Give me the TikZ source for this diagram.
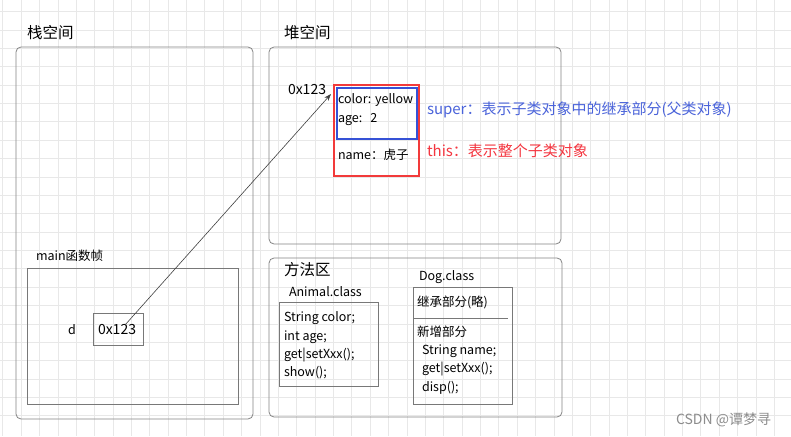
\documentclass[tikz,border=0pt]{standalone}
\usepackage{fontspec}
\setmainfont{Noto Sans CJK SC}
\usepackage{tikz}
\tikzset{
  every node/.style = {
    inner sep = 0pt,
    outer sep = 0pt
  }
}
\usetikzlibrary{
arrows.meta,
calc
}
\definecolor{gridgray}{HTML}{E8E8E8}
\definecolor{boxgray}{HTML}{858585}
\definecolor{objred}{HTML}{F23A3A}
\definecolor{objblue}{HTML}{3551D6}
\definecolor{supblue}{HTML}{4A63DA}
\definecolor{thisred}{HTML}{F4353F}

\begin{document}
\begin{tikzpicture}[
      x = 1pt,
      y = -1pt,
      gridline/.style = {
        draw = gridgray,
        line width = 0.8pt,
      },
      area/.style = {
        draw = boxgray,
        line width = 0.8pt,
        rounded corners = 5pt,
        anchor = north west,
      },
      frame/.style = {
        draw = boxgray!90!black,
        line width = 0.8pt,
        anchor = north west,
      },
      title/.style = {
        font = \fontsize{15.5}{18}\selectfont,
        anchor = west,
      },
      label/.style = {
        font = \fontsize{12.5}{18.3}\selectfont,
        anchor = west,
        align = left,
      },
      note/.style = {
        font = \fontsize{15}{17}\selectfont,
        anchor = west,
      },
      ]
      \useasboundingbox [fill=white] (0,0) rectangle (791,436);
      % background grid
      \foreach \i in {0,...,42} {
        \draw [gridline] ({2.8+18.37*\i},0) -- ++(0,436);
      }
      \foreach \j in {0,...,23} {
        \draw [gridline] (0,{-6.7+18.37*\j}) -- ++(791,0);
      }

      % stack
      \node [title] (node-stack-title) at (27,33) {栈空间};
      \node [area, minimum width=237, minimum height=372] (node-stack) at (16,47) {};
      \node [label] (node-main-title) at (36,256) {main函数帧};
      \node [frame, minimum width=211, minimum height=136] (node-main) at (27,268) {};
      \node [label] (node-d) at (68,330) {d};
      \node [frame, minimum width=50, minimum height=32] (node-ref) at (93,313) {};
      \node [label, font=\fontsize{14}{15}\selectfont] (node-ref-text) at (98,330) {0x123};

      % heap
      \node [title] (node-heap-title) at (284,33) {堆空间};
      \node [area, minimum width=292, minimum height=197] (node-heap) at (269,47) {};
      \node [label, font=\fontsize{14}{15}\selectfont] (node-addr) at (288,90) {0x123};
      \node [frame, draw=objred, line width=2pt, minimum width=85, minimum height=91] (node-obj) at (334,85) {};
      \node [frame, draw=objblue, line width=2pt, minimum width=80, minimum height=51] (node-super) at (336.5,87.5) {};
      \node [label] (node-fields) at (338,109.5) {color: yellow\\age:\hspace{8pt}2};
      \node [label] (node-name) at (338,155) {name：虎子};
      \node [note, text=supblue] (node-super-note) at (427,110) {super：表示子类对象中的继承部分(父类对象)};
      \node [note, text=thisred] (node-this-note) at (427,151) {this：表示整个子类对象};

      % method area
      \node [area, minimum width=293, minimum height=159] (node-method) at (269,258) {};
      \node [title] (node-method-title) at (284,270) {方法区};
      \node [label] (node-animal-title) at (289,292) {Animal.class};
      \node [frame, minimum width=99, minimum height=84] (node-animal) at (279,302) {};
      \node [label] (node-animal-body) at (284,345.5) {String color;\\int age;\\get|setXxx();\\show();};
      \node [label] (node-dog-title) at (419,277) {Dog.class};
      \node [frame, minimum width=99, minimum height=117] (node-dog) at (413,287) {};
      \node [label] (node-dog-super) at (417,302) {继承部分(略)};
      \draw [draw=boxgray!90!black, line width=0.8pt]
        ([yshift=-31]node-dog.north west) -- ([yshift=-31,xshift=-4]node-dog.north east);
      \node [label] (node-dog-body) at (417,360) {新增部分\\\hspace*{5pt}String name;\\\hspace*{5pt}get|setXxx();\\\hspace*{5pt}disp();};

      % reference
      \coordinate (ref-start) at (125,325);
      \coordinate (ref-end) at (331,94);
      \draw [draw=black!75, line width=0.6pt, -{Stealth[length=7pt,width=5pt]}]
        (ref-start) -- (ref-end);

      \node [anchor=west, text=black!45, font=\fontsize{14}{15}\selectfont] (node-mark) at (676,420) {CSDN @谭梦寻};
    \end{tikzpicture}
\end{document}
